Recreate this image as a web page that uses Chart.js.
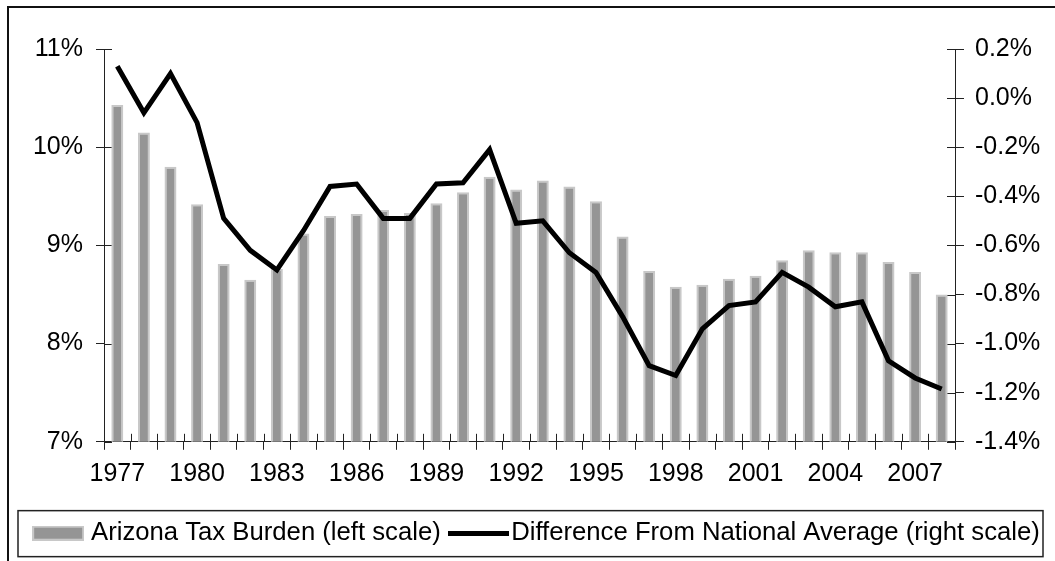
<!DOCTYPE html>
<html>
<head>
<meta charset="utf-8">
<script src="https://cdn.jsdelivr.net/npm/chart.js@4/dist/chart.umd.min.js"></script>
<style>
  html, body { margin: 0; padding: 0; background: #fff; overflow: hidden; }
  #frame { position: absolute; left: 7px; top: 6px; width: 1200px; height: 800px; border: 2px solid #111; }
  #wrap { position: absolute; left: 0; top: 0; width: 1055px; height: 561px; overflow: hidden; }
  #c { position: absolute; left: 0; top: 0; }
</style>
</head>
<body>
<div id="frame"></div>
<div id="wrap"><canvas id="c" width="1100" height="561"></canvas></div>
<script>
// ---- data ----
const years = ['1977','1978','1979','1980','1981','1982','1983','1984','1985','1986','1987','1988','1989','1990','1991','1992','1993','1994','1995','1996','1997','1998','1999','2000','2001','2002','2003','2004','2005','2006','2007','2008'];
const taxBurden = [10.43, 10.15, 9.80, 9.42, 8.81, 8.65, 8.76, 9.12, 9.30, 9.32, 9.36, 9.33, 9.43, 9.54, 9.70, 9.57, 9.66, 9.60, 9.45, 9.09, 8.74, 8.58, 8.60, 8.66, 8.69, 8.85, 8.95, 8.93, 8.93, 8.83, 8.73, 8.50];
const diffFromNational = [0.13, -0.06, 0.10, -0.10, -0.49, -0.62, -0.70, -0.54, -0.36, -0.35, -0.49, -0.49, -0.35, -0.345, -0.21, -0.51, -0.50, -0.63, -0.71, -0.89, -1.09, -1.13, -0.94, -0.845, -0.83, -0.71, -0.77, -0.85, -0.83, -1.07, -1.14, -1.185];
const leftTicks = [7, 8, 9, 10, 11];
const rightTicks = [-1.4, -1.2, -1.0, -0.8, -0.6, -0.4, -0.2, 0.0, 0.2];
const seriesNames = ['Arizona Tax Burden (left scale)', 'Difference From National Average (right scale)'];

const FONT = "'Liberation Sans', Arial, sans-serif";
const BAR_FILL = '#959595';
const BAR_EDGE = '#c8c8c8';

function swatch(w, h, draw) {
  const c = document.createElement('canvas');
  c.width = w; c.height = h;
  draw(c.getContext('2d'), w, h);
  return c;
}
const barSwatch = swatch(52, 15, (g, w, h) => {
  g.fillStyle = BAR_EDGE; g.fillRect(0, 0, w, h);
  g.fillStyle = BAR_FILL; g.fillRect(2, 2, w - 4, h - 4);
});
const lineSwatch = swatch(61, 5, (g, w, h) => {
  g.fillStyle = '#000'; g.fillRect(0, 0, w, h);
});

// inner halves of tick marks (ticks cross the axes)
const innerTicks = {
  id: 'innerTicks',
  beforeDatasetsDraw(chart) {
    const ctx = chart.ctx;
    const x = chart.scales.x, y = chart.scales.y, y1 = chart.scales.y1;
    ctx.save();
    ctx.strokeStyle = '#222';
    ctx.lineWidth = 1;
    ctx.beginPath();
    for (let i = 0; i <= years.length; i++) {
      const px = Math.round(x.getPixelForValue(i - 0.5)) + 0.5;
      ctx.moveTo(px, x.top);
      ctx.lineTo(px, x.top - 8);
    }
    leftTicks.forEach(v => {
      const py = Math.round(y.getPixelForValue(v)) + 0.5;
      ctx.moveTo(y.right, py); ctx.lineTo(y.right + 8, py);
    });
    rightTicks.forEach(v => {
      const py = Math.round(y1.getPixelForValue(v)) + 0.5;
      ctx.moveTo(y1.left, py); ctx.lineTo(y1.left - 8, py);
    });
    ctx.stroke();
    ctx.restore();
  }
};

// frame around the legend
const legendBox = {
  id: 'legendBox',
  afterDraw(chart) {
    const lg = chart.legend;
    const hb = lg.legendHitBoxes;
    if (!hb || !hb.length) return;
    const first = hb[0];
    const cy = first.top + first.height / 2;
    const cx = (lg.left + lg.right) / 2;
    const ctx = chart.ctx;
    ctx.save();
    ctx.strokeStyle = '#222';
    ctx.lineWidth = 1.5;
    ctx.strokeRect(cx - 521, cy - 22.5, 1025, 46);
    ctx.restore();
  }
};

new Chart(document.getElementById('c'), {
  data: {
    labels: years,
    datasets: [
      {
        type: 'bar',
        label: seriesNames[0],
        data: taxBurden,
        yAxisID: 'y',
        backgroundColor: BAR_FILL,
        borderColor: BAR_EDGE,
        borderWidth: 2,
        borderSkipped: false,
        categoryPercentage: 1,
        barPercentage: 0.45,
        order: 2
      },
      {
        type: 'line',
        label: seriesNames[1],
        data: diffFromNational,
        yAxisID: 'y1',
        borderColor: '#000',
        backgroundColor: '#000',
        borderWidth: 5,
        pointRadius: 0,
        tension: 0,
        borderJoinStyle: 'miter',
        borderCapStyle: 'butt',
        fill: false,
        order: 1
      }
    ]
  },
  options: {
    responsive: false,
    animation: false,
    events: [],
    layout: { padding: { left: 12, right: 34, top: 49, bottom: 5 } },
    scales: {
      x: {
        type: 'category',
        offset: true,
        grid: { offset: true, drawOnChartArea: false, tickLength: 8, color: '#222', lineWidth: 1 },
        border: { color: '#222', width: 1 },
        ticks: {
          autoSkip: false, maxRotation: 0, minRotation: 0, padding: 9,
          color: '#000', font: { family: FONT, size: 25 },
          callback: (v, i) => (i % 3 === 0 ? years[i] : '')
        },
        afterFit: s => { s.height = 61; }
      },
      y: {
        type: 'linear', position: 'left',
        min: leftTicks[0], max: leftTicks[leftTicks.length - 1],
        afterBuildTicks: s => { s.ticks = leftTicks.map(v => ({ value: v })); },
        grid: { drawOnChartArea: false, tickLength: 8, color: '#222', lineWidth: 1 },
        border: { color: '#222', width: 1 },
        ticks: { padding: 13, color: '#000', font: { family: FONT, size: 25 }, callback: v => v + '%' },
        afterFit: s => { s.width = 92; }
      },
      y1: {
        type: 'linear', position: 'right',
        min: rightTicks[0], max: rightTicks[rightTicks.length - 1],
        afterBuildTicks: s => { s.ticks = rightTicks.map(v => ({ value: v })); },
        grid: { drawOnChartArea: false, tickLength: 9, color: '#222', lineWidth: 1 },
        border: { color: '#222', width: 1 },
        ticks: {
          padding: 11, color: '#000', font: { family: FONT, size: 25 },
          callback: v => (Math.abs(v) < 1e-9 ? 0 : v).toFixed(1) + '%'
        },
        afterFit: s => { s.width = 111; }
      }
    },
    plugins: {
      tooltip: { enabled: false },
      legend: {
        position: 'bottom',
        labels: {
          usePointStyle: true,
          pointStyleWidth: 40,
          padding: 17.5,
          color: '#000',
          font: { family: FONT, size: 25.7 },
          sort: (a, b) => a.datasetIndex - b.datasetIndex,
          generateLabels(chart) {
            const items = Chart.defaults.plugins.legend.labels.generateLabels(chart);
            items.forEach(it => { it.pointStyle = it.datasetIndex === 0 ? barSwatch : lineSwatch; it.lineWidth = 0; });
            return items;
          }
        }
      }
    }
  },
  plugins: [innerTicks, legendBox]
});
</script>
</body>
</html>
